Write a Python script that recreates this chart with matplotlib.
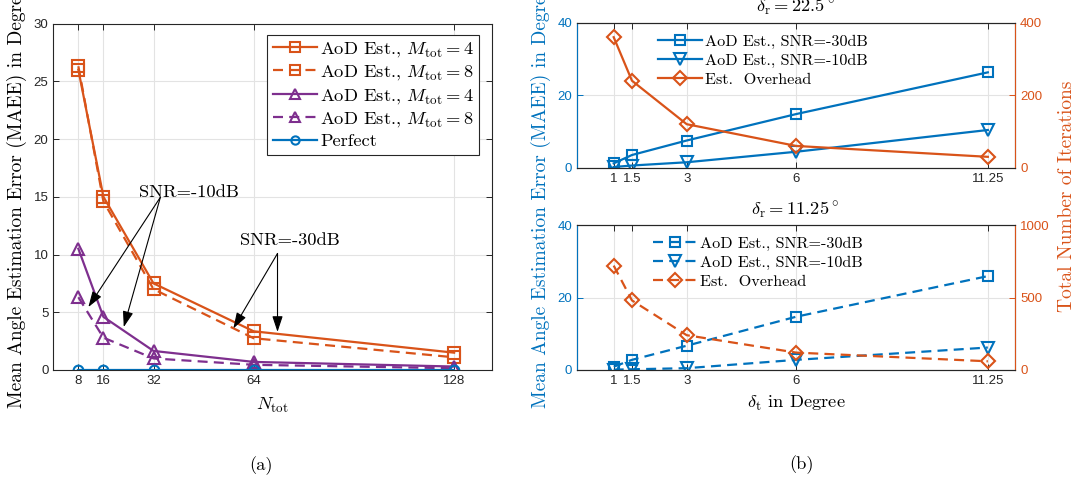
#!/usr/bin/env python3
"""MAEE vs. N_tot (a) and MAEE / overhead vs. delta_t (b)."""

import matplotlib
matplotlib.use("Agg")
import matplotlib.pyplot as plt

BLUE = "#0072BD"
ORANGE = "#D95319"
PURPLE = "#7E2F8E"
DARK = "#262626"
GRID = "#e3e3e3"
DASHED = (0, (4.5, 2.8))

plt.rcParams["font.family"] = ["Liberation Sans", "DejaVu Sans"]
plt.rcParams["mathtext.fontset"] = "cm"
plt.rcParams["axes.unicode_minus"] = False

CM = dict(family="cmr10", size=13.3)
CM_SMALL = dict(family="cmr10", size=11.6)
CM_LABEL = dict(family="cmr10", size=14)
TICK_SIZE = 9.5

# (a) error vs. number of antennas
n_tot = [8, 16, 32, 64, 128]
sq_m4 = [26.0, 15.0, 7.5, 3.35, 1.5]
sq_m8 = [26.3, 14.6, 7.0, 2.75, 1.1]
tri_m4 = [10.5, 4.6, 1.65, 0.7, 0.3]
tri_m8 = [6.3, 2.8, 1.0, 0.45, 0.15]
perfect = [0.0, 0.0, 0.0, 0.0, 0.0]

# (b) error and overhead vs. transmit resolution
delta_t = [1, 1.5, 3, 6, 11.25]
top_snr30 = [1.2, 3.5, 7.5, 14.8, 26.3]
top_snr10 = [0.2, 0.6, 1.5, 4.4, 10.4]
top_overhead = [360, 240, 120, 60, 30]
bot_snr30 = [0.9, 2.8, 6.7, 14.7, 25.9]
bot_snr10 = [0.1, 0.2, 0.5, 2.8, 6.2]
bot_overhead = [720, 480, 240, 120, 60]

W, H = 1080, 482


def frac_box(x0, y_top, x1, y_bot):
    return [x0 / W, 1 - y_bot / H, (x1 - x0) / W, (y_bot - y_top) / H]


def style_box(ax):
    ax.grid(True, color=GRID, lw=0.8)
    ax.set_axisbelow(True)
    for s in ax.spines.values():
        s.set_color(DARK)
        s.set_linewidth(0.8)
    ax.tick_params(direction="in", length=4, width=0.7, labelsize=TICK_SIZE,
                   colors=DARK, top=True, right=True)


fig = plt.figure(figsize=(W / 100, H / 100), dpi=100)

# ---- (a) ----
ax = fig.add_axes(frac_box(53.3, 23.5, 491.7, 370))
kw = dict(lw=1.6, mew=1.5, mfc="none")
ax.plot(n_tot, sq_m4, ls="-", marker="s", ms=8, color=ORANGE, label=r"AoD Est., $M_\mathrm{tot}=4$", **kw)
ax.plot(n_tot, sq_m8, ls=DASHED, marker="s", ms=8, color=ORANGE, label=r"AoD Est., $M_\mathrm{tot}=8$", **kw)
ax.plot(n_tot, tri_m4, ls="-", marker="^", ms=9, color=PURPLE, label=r"AoD Est., $M_\mathrm{tot}=4$", **kw)
ax.plot(n_tot, tri_m8, ls=DASHED, marker="^", ms=9, color=PURPLE, label=r"AoD Est., $M_\mathrm{tot}=8$", **kw)
ax.plot(n_tot, perfect, ls="-", marker="o", ms=7, color=BLUE, label="Perfect", **kw)
ax.set_xlim(0, 140)
ax.set_ylim(0, 30)
ax.set_xticks(n_tot)
ax.set_yticks(range(0, 31, 5))
style_box(ax)
leg = ax.legend(loc="upper right", bbox_to_anchor=(0.972, 0.968), borderaxespad=0,
                prop=CM, fancybox=False, edgecolor=DARK, framealpha=1, markerscale=0.85,
                handlelength=2.4, labelspacing=0.24, handletextpad=0.15, borderpad=0.3)
leg.get_frame().set_linewidth(0.8)

arrow = dict(arrowstyle="-|>,head_length=0.6,head_width=0.2", color="black", lw=0.8,
             mutation_scale=16, shrinkA=0, shrinkB=0)
ax.text(43.3, 15.4, "SNR=-10dB", ha="center", va="center", fontdict=CM)
for head in [(11.2, 5.45), (22.5, 3.72)]:
    ax.annotate("", xy=head, xytext=(34.2, 14.96), arrowprops=arrow)
ax.text(75.5, 11.2, "SNR=-30dB", ha="center", va="center", fontdict=CM)
for head in [(57.5, 3.6), (71.6, 3.3)]:
    ax.annotate("", xy=head, xytext=(71.6, 10.09), arrowprops=arrow)

fig.text(272 / W, 1 - 405 / H, r"$N_\mathrm{tot}$", ha="center", va="center", fontdict=CM)
fig.text(16.5 / W, 1 - 198 / H, "Mean Angle Estimation Error (MAEE) in Degree",
         rotation=90, ha="center", va="center", fontdict=CM_LABEL)
fig.text(261 / W, 1 - 466 / H, "(a)", ha="center", va="center", fontdict=CM)


# ---- (b) ----
def overhead_panel(box, snr30, snr10, overhead, ytop, ls, title, title_y, leg_x):
    ax = fig.add_axes(box)
    ax2 = ax.twinx()
    kw = dict(lw=1.6, mew=1.5, mfc="none", ls=ls)
    l1, = ax.plot(delta_t, snr30, marker="s", ms=7.5, color=BLUE, **kw)
    l2, = ax.plot(delta_t, snr10, marker="v", ms=8.5, color=BLUE, **kw)
    l3, = ax2.plot(delta_t, overhead, marker="D", ms=7.5, color=ORANGE, **kw)
    ax.set_xlim(0, 12)
    ax.set_xticks(delta_t)
    ax.set_xticklabels(["1", "1.5", "3", "6", "11.25"])
    ax.set_ylim(0, 40)
    ax.set_yticks([0, 20, 40])
    ax2.set_ylim(0, ytop)
    ax2.set_yticks([0, ytop / 2, ytop])
    style_box(ax)
    ax.tick_params(axis="y", colors=BLUE, right=False)
    ax2.tick_params(axis="y", direction="in", length=4, width=0.7,
                    labelsize=TICK_SIZE, colors=ORANGE)
    ax2.spines["left"].set_color(BLUE)
    ax2.spines["right"].set_color(ORANGE)
    ax2.spines["top"].set_color(DARK)
    ax2.spines["bottom"].set_color(DARK)
    for s in ax2.spines.values():
        s.set_linewidth(0.8)
    fig.text(795 / W, 1 - title_y / H, title, ha="center", va="center", fontdict=CM)
    ax2.legend([l1, l2, l3],
               ["AoD Est., SNR=-30dB", "AoD Est., SNR=-10dB", "Est.  Overhead"],
               loc="upper left", bbox_to_anchor=(leg_x, 0.92), borderaxespad=0,
               prop=CM_SMALL, frameon=False, handlelength=2.7, labelspacing=0.29,
               handletextpad=0.2, borderpad=0, markerscale=1.0)
    return ax


overhead_panel(frac_box(577.2, 22.7, 1015.2, 167.7), top_snr30, top_snr10, top_overhead,
               400, "-", r"$\delta_\mathrm{r}=22.5^\circ$", 7, 0.185)
overhead_panel(frac_box(577.2, 225, 1015.2, 370), bot_snr30, bot_snr10, bot_overhead,
               1000, DASHED, r"$\delta_\mathrm{r}=11.25^\circ$", 210, 0.173)

fig.text(796.5 / W, 1 - 403 / H, r"$\delta_\mathrm{t}$ in Degree", ha="center", va="center", fontdict=CM)
fig.text(541 / W, 1 - 198 / H, "Mean Angle Estimation Error (MAEE) in Degree",
         rotation=90, ha="center", va="center", color=BLUE, fontdict=CM_LABEL)
fig.text(1067 / W, 1 - 196.3 / H, "Total Number of Iterations",
         rotation=90, ha="center", va="center", color=ORANGE, fontdict=CM_LABEL)
fig.text(801.5 / W, 1 - 465 / H, "(b)", ha="center", va="center", fontdict=CM)

fig.savefig("out.png", dpi=100)
